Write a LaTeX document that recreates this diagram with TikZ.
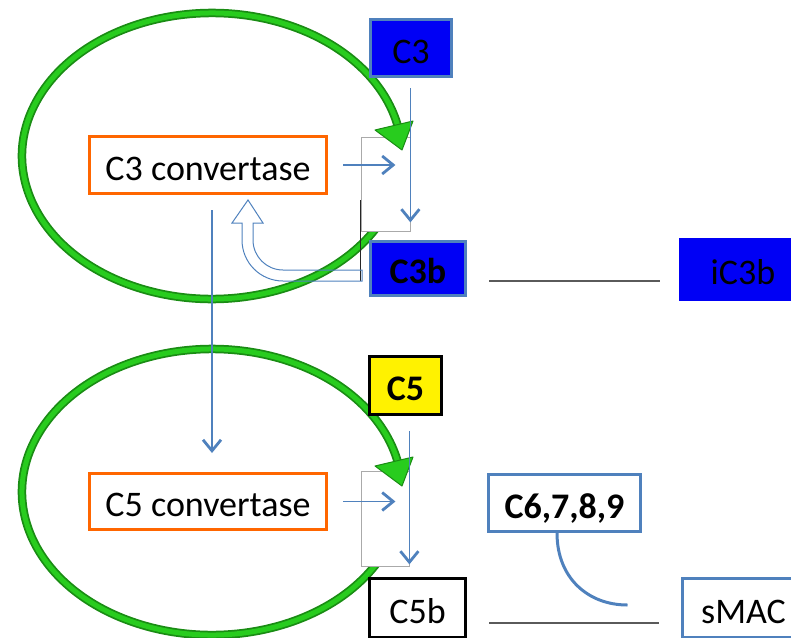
\documentclass[tikz,border=0pt]{standalone}
\usepackage{fontspec}
\setmainfont{Carlito}
\usetikzlibrary{arrows.meta}
\definecolor{steel}{RGB}{79,129,189}
\definecolor{loopgreen}{RGB}{40,204,30}
\definecolor{loopedge}{RGB}{26,140,20}
\definecolor{convorange}{RGB}{255,102,0}
\definecolor{deepblue}{RGB}{0,0,245}
\definecolor{linegray}{RGB}{90,90,90}
\definecolor{boxgray}{RGB}{170,170,170}

\begin{document}
\begin{tikzpicture}[x=1pt,y=-1pt,
  every node/.style={font=\fontsize{36}{43}\selectfont, inner sep=0pt, text=black,
    text height=30pt, text depth=0pt},
  comp/.style={draw=steel, line width=3pt, fill=deepblue},
  convbox/.style={draw=convorange, line width=3pt, fill=white, minimum width=237pt},
  blackbox/.style={draw=black, line width=3pt},
  sitebox/.style={draw=boxgray, line width=0.8pt, fill=white},
  flow/.style={draw=steel, line width=1.8pt, -{Straight Barb[length=11pt,width=18pt,line width=2.8pt]}},
  joinline/.style={draw=linegray, line width=1.2pt}]
\useasboundingbox (0,0) rectangle (791,637);

% amplification loops (drawn first, boxes sit on top)
\foreach \dy in {0,336}{
  \draw[loopedge, line width=8.5pt] (212,156+\dy) ++(25:190 and 143)
    arc[start angle=25, end angle=350, x radius=190, y radius=143];
  \draw[loopgreen, line width=5pt] (212,156+\dy) ++(25:190 and 143)
    arc[start angle=25, end angle=350, x radius=190, y radius=143];
}

% C3 stage
\node[comp, minimum width=81pt, minimum height=57pt] (c3) at (411,48) {C3};
\node[comp, minimum width=95pt, minimum height=54pt, font=\fontsize{36}{43}\selectfont\bfseries] (c3b) at (418,268.5) {C3b};
\node[fill=deepblue, draw=deepblue, minimum width=128pt, minimum height=62pt] (ic3b) at (743,269) {iC3b};
\node[convbox, minimum height=57pt] (conv3) at (208,165) {C3 convertase};
\node[sitebox, minimum width=49pt, minimum height=94pt, text height=0pt] (wb3) at (385.5,184) {};
\draw[black!85, line width=0.8pt] ([yshift=-16pt]wb3.west) -- ([yshift=-97pt]wb3.west);

% C5 stage
\node[blackbox, fill=yellow, minimum width=72pt, minimum height=58pt, font=\fontsize{36}{43}\selectfont\bfseries] (c5) at (405.5,385.5) {C5};
\node[blackbox, fill=white, minimum width=96pt, minimum height=59pt] (c5b) at (417.5,608) {C5b};
\node[convbox, minimum height=56pt] (conv5) at (208,501.5) {C5 convertase};
\node[sitebox, minimum width=48pt, minimum height=95pt, text height=0pt] (wb5) at (385,518.5) {};
\node[draw=steel, line width=3pt, fill=white, minimum width=152pt, minimum height=57pt, font=\fontsize{36}{43}\selectfont\bfseries] (mac) at (564.5,503) {C6,7,8,9};
\node[draw=steel, line width=3pt, fill=white, minimum width=122pt, minimum height=59pt] (smac) at (743.5,608) {sMAC};

% arrowheads of the loops
\foreach \dy in {0,336}{
  \filldraw[fill=loopgreen, draw=loopedge, line width=1pt, line join=round]
    (375,130+\dy) -- (413,121+\dy) -- (402,150+\dy) -- cycle;
}

% cleavage arrows
\draw[flow] ([yshift=-10pt]wb3.east |- c3.south) -- ([yshift=9pt]wb3.south east);
\draw[flow] ([xshift=15pt]conv3.east) -- ([xshift=-15pt]conv3.east -| wb3.east);
\draw[flow] ([xshift=4pt,yshift=-15pt]conv3.south) -- ([xshift=4pt,yshift=19pt]conv5.north);
\draw[flow] ([yshift=-15pt]wb5.east |- c5.south) -- ([yshift=2pt]wb5.south east);
\draw[flow] ([xshift=15pt]conv5.east) -- ([xshift=-14pt]conv5.east -| wb5.east);

% C3b feeds back into the C3 convertase (hollow bent arrow)
\draw[steel, line width=1pt, line join=miter]
  (362,270) -- (283,270) arc[start angle=90, end angle=180, radius=30]
  -- (253,223) -- (263,223) -- (248,200) -- (232,223) -- (242,223) -- (242,240)
  arc[start angle=180, end angle=90, radius=41] -- (362,281) -- cycle;

% inactivation and assembly lines
\draw[joinline] ([xshift=22pt,yshift=-12.5pt]c3b.east) -- ([xshift=-19pt,yshift=-12.5pt]c3b.east -| ic3b.west);
\draw[joinline] ([xshift=22pt,yshift=-15pt]c5b.east) -- ([xshift=-22pt,yshift=-15pt]c5b.east -| smac.west);
\draw[steel, line width=3pt] ([xshift=-7.5pt]mac.south) .. controls (557,578) and (588,605) .. ([xshift=-53.5pt,yshift=3pt]smac.west);
\end{tikzpicture}
\end{document}
